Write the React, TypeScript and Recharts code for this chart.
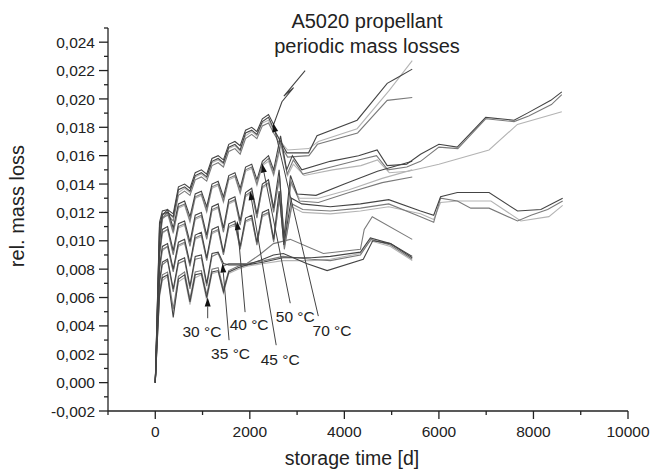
import { LineChart, Line, XAxis, YAxis, ReferenceLine, ReferenceDot } from 'recharts'

const FONT = '"Liberation Sans", Arial, Helvetica, sans-serif'
const INK = '#222'
const DARK = '#444'
const MID = '#7a7a7a'
const LIGHT = '#b4b4b4'

// axis ticks (every 1000 d / 0.001, labels on every second one)
const X_TICKS = [-1000, 0, 1000, 2000, 3000, 4000, 5000, 6000, 7000, 8000, 9000, 10000]
const Y_TICKS = [
  -0.002, -0.001, 0, 0.001, 0.002, 0.003, 0.004, 0.005, 0.006, 0.007, 0.008, 0.009, 0.01, 0.011,
  0.012, 0.013, 0.014, 0.015, 0.016, 0.017, 0.018, 0.019, 0.02, 0.021, 0.022, 0.023, 0.024, 0.025,
]

// shared sampling days of the periodic phase
const earlyDays = [0, 90, 150, 260, 380, 490, 620, 734, 845, 975, 1088, 1200, 1330, 1442, 1555, 1685, 1796, 1910, 2040, 2150, 2265, 2395, 2504]

// 70 °C
const a1Early = [0, 0.0113, 0.0121, 0.0122, 0.0119, 0.0138, 0.014, 0.0137, 0.0148, 0.015, 0.0147, 0.0158, 0.016, 0.0157, 0.0168, 0.017, 0.0167, 0.0178, 0.018, 0.0177, 0.0186, 0.0189, 0.0182]
const a1LateDays = [2680, 2925, 2720, 3170]
const a1Late = [0.0198, 0.0208, 0.0202, 0.022]
const a2Early = [0, 0.011, 0.0119, 0.012, 0.0117, 0.0136, 0.0138, 0.0135, 0.0146, 0.0148, 0.0145, 0.0156, 0.0158, 0.0155, 0.0166, 0.0168, 0.0164, 0.0176, 0.0178, 0.0175, 0.0184, 0.0187, 0.0179]
const a2LateDays = [2620, 2785, 3243, 3421, 4270, 4906, 5118, 5436]
const a2Late = [0.0172, 0.0162, 0.0162, 0.0174, 0.0185, 0.0211, 0.0215, 0.0221]
const a3Early = [0, 0.0108, 0.0118, 0.012, 0.0116, 0.0134, 0.0137, 0.0134, 0.0145, 0.0147, 0.0144, 0.0155, 0.0157, 0.0154, 0.0165, 0.0167, 0.0163, 0.0174, 0.0177, 0.0174, 0.0183, 0.0185, 0.0178]
const a3LateDays = [2650, 2800, 3250, 3450, 4270, 4950, 5436]
const a3Late = [0.017, 0.0164, 0.0165, 0.017, 0.0179, 0.0206, 0.0227]
const a4Early = [0, 0.0106, 0.0116, 0.0118, 0.0114, 0.0132, 0.0135, 0.0132, 0.0143, 0.0145, 0.0142, 0.0153, 0.0155, 0.0152, 0.0163, 0.0165, 0.0161, 0.0172, 0.0175, 0.0172, 0.0181, 0.0183, 0.0176]
const a4LateDays = [2640, 2800, 3250, 3430, 4280, 4906, 5436]
const a4Late = [0.0168, 0.0159, 0.016, 0.0168, 0.0176, 0.0199, 0.0201]

// 50 °C
const b1Early = [0, 0.01, 0.0118, 0.0122, 0.0109, 0.0126, 0.0128, 0.0117, 0.0133, 0.0135, 0.0124, 0.014, 0.0142, 0.0131, 0.0146, 0.0148, 0.0137, 0.0152, 0.0154, 0.0143, 0.0156, 0.016, 0.015]
const b1LateDays = [2650, 2780, 2900, 3100, 3700, 4300, 4693, 4906, 5318, 5611, 6000, 6388, 6990, 7589, 7872, 8367, 8600]
const b1Late = [0.0174, 0.015, 0.016, 0.015, 0.0156, 0.016, 0.0164, 0.0153, 0.0154, 0.0161, 0.0168, 0.0166, 0.0187, 0.0185, 0.019, 0.0199, 0.0205]
const b2Early = [0, 0.0098, 0.0116, 0.012, 0.0106, 0.0124, 0.0126, 0.0114, 0.0131, 0.0133, 0.0121, 0.0138, 0.014, 0.0128, 0.0144, 0.0146, 0.0134, 0.015, 0.0152, 0.014, 0.0154, 0.0158, 0.0147]
const b2LateDays = [2660, 2790, 2920, 3120, 3720, 4300, 4680, 4920, 5320, 5611, 6000, 6400, 6990, 7589, 7900, 8380, 8600]
const b2Late = [0.017, 0.0147, 0.0157, 0.0147, 0.0152, 0.0157, 0.016, 0.015, 0.0152, 0.0156, 0.0166, 0.0165, 0.0186, 0.0184, 0.0188, 0.0196, 0.0203]
const b3Early = [0, 0.0097, 0.0115, 0.0119, 0.0105, 0.0123, 0.0125, 0.0113, 0.013, 0.0132, 0.012, 0.0137, 0.0139, 0.0127, 0.0143, 0.0145, 0.0133, 0.0149, 0.0151, 0.0139, 0.0153, 0.0156, 0.0146]
const b3LateDays = [2660, 2800, 2920, 3150, 3750, 4350, 4700, 4950, 5350, 5611, 6000, 7060, 7660, 8600]
const b3Late = [0.0167, 0.0146, 0.0154, 0.0146, 0.015, 0.0153, 0.0157, 0.0148, 0.0149, 0.0151, 0.0154, 0.0164, 0.0182, 0.0191]

// 45 °C
const c1Early = [0, 0.0092, 0.0108, 0.011, 0.0093, 0.0112, 0.0114, 0.0099, 0.0118, 0.012, 0.0104, 0.0124, 0.0126, 0.0109, 0.0129, 0.0131, 0.0114, 0.0134, 0.0137, 0.0119, 0.014, 0.0143, 0.0123]
const c1LateDays = [2620, 2720, 2860, 3000, 3400, 4000, 4700, 5436]
const c1Late = [0.015, 0.0102, 0.0146, 0.0133, 0.0132, 0.014, 0.0149, 0.0156]
const c2Early = [0, 0.009, 0.0106, 0.0108, 0.009, 0.011, 0.0112, 0.0096, 0.0116, 0.0118, 0.0101, 0.0122, 0.0124, 0.0106, 0.0127, 0.0129, 0.0111, 0.0132, 0.0135, 0.0116, 0.0138, 0.0141, 0.012]
const c2LateDays = [2630, 2730, 2870, 3050, 3450, 4100, 4800, 5436]
const c2Late = [0.0146, 0.0099, 0.0142, 0.0128, 0.0127, 0.0134, 0.0141, 0.0145]
const c3Early = [0, 0.0089, 0.0105, 0.0108, 0.0091, 0.0109, 0.0111, 0.0097, 0.0115, 0.0117, 0.0102, 0.0121, 0.0123, 0.0107, 0.0126, 0.0128, 0.0112, 0.0131, 0.0134, 0.0117, 0.0137, 0.014, 0.0121]
const c3LateDays = [2630, 2730, 2870, 3050, 3450, 4100, 4800, 5436]
const c3Late = [0.0144, 0.0101, 0.014, 0.013, 0.013, 0.0136, 0.0144, 0.015]

// 40 °C
const d1Early = [0, 0.0082, 0.0096, 0.0098, 0.008, 0.0099, 0.0101, 0.0084, 0.0104, 0.0106, 0.0088, 0.0108, 0.011, 0.0092, 0.0112, 0.0114, 0.0096, 0.0116, 0.0118, 0.0099, 0.012, 0.0122, 0.0101]
const d1LateDays = [2620, 2720, 2880, 3100, 3703, 4340, 4939, 5611, 5890, 6035, 6390, 7061, 7663, 8157, 8618]
const d1Late = [0.0135, 0.0097, 0.013, 0.0126, 0.0124, 0.0126, 0.0129, 0.0121, 0.0118, 0.0131, 0.0134, 0.0134, 0.0121, 0.0122, 0.013]
const d2Early = [0, 0.008, 0.0094, 0.0096, 0.0078, 0.0097, 0.0099, 0.0082, 0.0102, 0.0104, 0.0086, 0.0106, 0.0108, 0.009, 0.011, 0.0112, 0.0094, 0.0114, 0.0116, 0.0097, 0.0118, 0.012, 0.0099]
const d2LateDays = [2630, 2730, 2890, 3120, 3703, 4340, 4939, 5611, 5890, 6035, 6390, 6674, 7061, 7663, 7948, 8300, 8618]
const d2Late = [0.0131, 0.0094, 0.0126, 0.0122, 0.0121, 0.0123, 0.0126, 0.0117, 0.0113, 0.013, 0.0128, 0.0123, 0.0123, 0.0114, 0.0118, 0.0122, 0.0128]
const d3Early = [0, 0.0079, 0.0093, 0.0096, 0.0079, 0.0096, 0.0098, 0.0083, 0.0101, 0.0103, 0.0087, 0.0105, 0.0107, 0.0091, 0.0109, 0.0111, 0.0095, 0.0113, 0.0115, 0.0098, 0.0117, 0.0119, 0.01]
const d3LateDays = [2630, 2730, 2890, 3120, 3703, 4340, 4939, 5611, 5890, 6035, 6390, 7100, 7733, 8327, 8618]
const d3Late = [0.0129, 0.0096, 0.0124, 0.012, 0.0119, 0.0121, 0.0124, 0.0119, 0.0115, 0.0127, 0.0128, 0.0128, 0.0114, 0.0117, 0.0125]

// 35 °C
const e1Early = [0, 0.0072, 0.0085, 0.0087, 0.0066, 0.0086, 0.0088, 0.0068, 0.0089, 0.009, 0.007, 0.0091, 0.0092, 0.0084]
const e1LateDays = [1555, 1940, 2200, 2500, 2710, 3200, 3636, 4400, 4600, 4975, 5436]
const e1Late = [0.0083, 0.0083, 0.0086, 0.009, 0.0091, 0.0084, 0.0079, 0.0087, 0.01, 0.0098, 0.0088]
const e2Early = [0, 0.007, 0.0083, 0.0086, 0.0064, 0.0084, 0.0086, 0.0066, 0.0087, 0.0088, 0.0068, 0.0089, 0.0091, 0.0082]
const e2LateDays = [1555, 1940, 2200, 2500, 2855, 3555, 4340, 4420, 4590, 5436]
const e2Late = [0.0084, 0.0084, 0.009, 0.0098, 0.0101, 0.0091, 0.0094, 0.0108, 0.0117, 0.0101]

// 30 °C
const f1Early = [0, 0.0062, 0.0074, 0.0076, 0.0046, 0.0073, 0.0076, 0.0057, 0.0076, 0.0077, 0.006, 0.0078, 0.0079, 0.0064]
const f1LateDays = [1555, 1750, 1940, 2300, 2700, 3300, 3703, 4340, 4550, 4975, 5436]
const f1Late = [0.0078, 0.0081, 0.0083, 0.0085, 0.0088, 0.0088, 0.0089, 0.0092, 0.0102, 0.0098, 0.0089]
const f2Early = [0, 0.0064, 0.0076, 0.0078, 0.0052, 0.0075, 0.0078, 0.0059, 0.0078, 0.0079, 0.0062, 0.008, 0.0081, 0.0066]
const f2LateDays = [1555, 1750, 1940, 2300, 2700, 3300, 3703, 4340, 4560, 4975, 5436]
const f2Late = [0.0079, 0.0082, 0.0084, 0.0086, 0.0089, 0.0087, 0.0086, 0.009, 0.0101, 0.0097, 0.0087]
const f3Early = [0, 0.006, 0.0072, 0.0075, 0.0049, 0.0071, 0.0074, 0.0055, 0.0074, 0.0076, 0.0058, 0.0077, 0.0078, 0.0063]
const f3LateDays = [1555, 1750, 1940, 2300, 2700, 3300, 3703, 4340, 4550, 4975, 5436]
const f3Late = [0.0077, 0.008, 0.0082, 0.0084, 0.0086, 0.0086, 0.0087, 0.0091, 0.01, 0.0096, 0.0086]

// arrow annotations
const arrowLabels = ['30 °C', '35 °C', '40 °C', '45 °C', '50 °C', '70 °C']
const arrowTipDays = [1109, 1423, 1731, 2006, 2261, 2494]
const arrowTipLoss = [0.006, 0.0084, 0.0114, 0.0135, 0.01545, 0.0183]
const arrowTailDays = [1109, 1561, 1900, 2558, 2855, 3449]
const arrowTailLoss = [0.00454, 0.00299, 0.00497, 0.00264, 0.0056, 0.00469]
const labelDays = [988, 1593, 1985, 2643, 2961, 3739]
const labelLoss = [0.00363, 0.00207, 0.00412, 0.00165, 0.00469, 0.0037]

const build = (early: number[], lateDays: number[], late: number[]) => {
  const days = earlyDays.slice(0, early.length).concat(lateDays)
  return early.concat(late).map((loss, i) => ({ day: days[i], loss }))
}

const series = [
  { id: 'b3', color: LIGHT, data: build(b3Early, b3LateDays, b3Late) },
  { id: 'c3', color: LIGHT, data: build(c3Early, c3LateDays, c3Late) },
  { id: 'd3', color: LIGHT, data: build(d3Early, d3LateDays, d3Late) },
  { id: 'f3', color: LIGHT, data: build(f3Early, f3LateDays, f3Late) },
  { id: 'a3', color: LIGHT, data: build(a3Early, a3LateDays, a3Late) },
  { id: 'a4', color: MID, data: build(a4Early, a4LateDays, a4Late) },
  { id: 'b2', color: MID, data: build(b2Early, b2LateDays, b2Late) },
  { id: 'c2', color: MID, data: build(c2Early, c2LateDays, c2Late) },
  { id: 'd2', color: MID, data: build(d2Early, d2LateDays, d2Late) },
  { id: 'e2', color: MID, data: build(e2Early, e2LateDays, e2Late) },
  { id: 'f2', color: MID, data: build(f2Early, f2LateDays, f2Late) },
  { id: 'a1', color: DARK, data: build(a1Early, a1LateDays, a1Late) },
  { id: 'a2', color: DARK, data: build(a2Early, a2LateDays, a2Late) },
  { id: 'b1', color: DARK, data: build(b1Early, b1LateDays, b1Late) },
  { id: 'c1', color: DARK, data: build(c1Early, c1LateDays, c1Late) },
  { id: 'd1', color: DARK, data: build(d1Early, d1LateDays, d1Late) },
  { id: 'e1', color: DARK, data: build(e1Early, e1LateDays, e1Late) },
  { id: 'f1', color: DARK, data: build(f1Early, f1LateDays, f1Late) },
]

const YTick = ({ x, y, payload }: any) => {
  const major = Math.round(payload.value * 1000) % 2 === 0
  return (
    <g>
      <line x1={x - (major ? 9 : 4)} y1={y} x2={x} y2={y} stroke={INK} strokeWidth={1.3} />
      {major && (
        <text x={x - 13} y={y} dy="0.36em" textAnchor="end" fontSize={15.5} fill={INK} fontFamily={FONT}>
          {payload.value.toFixed(3).replace('.', ',')}
        </text>
      )}
    </g>
  )
}

const XTick = ({ x, y, payload }: any) => {
  const major = payload.value % 2000 === 0
  return (
    <g>
      <line x1={x} y1={y} x2={x} y2={y + (major ? 8 : 4)} stroke={INK} strokeWidth={1.3} />
      {major && (
        <text x={x} y={y + 26} textAnchor="middle" fontSize={15.5} fill={INK} fontFamily={FONT}>
          {payload.value}
        </text>
      )}
    </g>
  )
}

const arrowShape = (props: any) => {
  const { x1, y1, x2, y2 } = props
  const len = Math.hypot(x2 - x1, y2 - y1) || 1
  const ux = (x2 - x1) / len
  const uy = (y2 - y1) / len
  const bx = x2 - ux * 9
  const by = y2 - uy * 9
  return (
    <g>
      <line x1={x1} y1={y1} x2={bx} y2={by} stroke="#444" strokeWidth={1} />
      <polygon
        points={`${x2},${y2} ${bx - uy * 3},${by + ux * 3} ${bx + uy * 3},${by - ux * 3}`}
        fill="#111"
      />
    </g>
  )
}

const App = () => {
  return (
    <div style={{ position: 'absolute', left: 0, top: 0, width: 653, height: 470, background: '#fff' }}>
      <LineChart width={653} height={470} margin={{ top: 28, right: 25, bottom: 0, left: 0 }}>
        <XAxis
          type="number"
          dataKey="day"
          domain={[-1000, 10000]}
          ticks={X_TICKS}
          interval={0}
          allowDataOverflow
          height={59}
          tickSize={0}
          tickMargin={0}
          tickLine={false}
          tick={XTick}
          axisLine={{ stroke: INK, strokeWidth: 1.3 }}
        />
        <YAxis
          type="number"
          domain={[-0.002, 0.025]}
          ticks={Y_TICKS}
          interval={0}
          allowDataOverflow
          width={108}
          tickSize={0}
          tickMargin={0}
          tickLine={false}
          tick={YTick}
          axisLine={{ stroke: INK, strokeWidth: 1.3 }}
        />
        {series.map((s) => (
          <Line
            key={s.id}
            data={s.data}
            dataKey="loss"
            type="linear"
            stroke={s.color}
            strokeWidth={1.1}
            dot={false}
            activeDot={false}
            isAnimationActive={false}
          />
        ))}
        {arrowLabels.map((label, i) => (
          <ReferenceLine
            key={'arrow' + label}
            segment={[
              { x: arrowTailDays[i], y: arrowTailLoss[i] },
              { x: arrowTipDays[i], y: arrowTipLoss[i] },
            ]}
            shape={arrowShape}
          />
        ))}
        {arrowLabels.map((label, i) => (
          <ReferenceDot
            key={'label' + label}
            x={labelDays[i]}
            y={labelLoss[i]}
            shape={(p: any) => (
              <text x={p.cx} y={p.cy} dy="0.36em" textAnchor="middle" fontSize={15.5} fill={INK} fontFamily={FONT}>
                {label}
              </text>
            )}
          />
        ))}
      </LineChart>
      <svg
        width={653}
        height={470}
        style={{ position: 'absolute', left: 0, top: 0, pointerEvents: 'none' }}
        fontFamily={FONT}
        fill={INK}
      >
        <text x={367} y={28} textAnchor="middle" fontSize={20}>A5020 propellant</text>
        <text x={367} y={53} textAnchor="middle" fontSize={20}>periodic mass losses</text>
        <text x={24} y={206} textAnchor="middle" fontSize={20} transform="rotate(-90, 24, 206)">rel. mass loss</text>
        <text x={352} y={465} textAnchor="middle" fontSize={19.5}>storage time [d]</text>
      </svg>
    </div>
  )
}

export default App
